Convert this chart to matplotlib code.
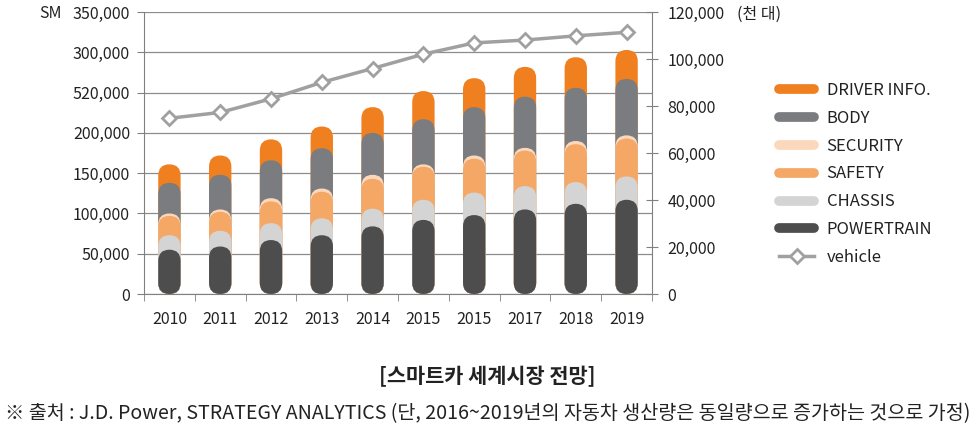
import numpy as np
import matplotlib
matplotlib.use("Agg")
import matplotlib.pyplot as plt
from matplotlib.patches import FancyBboxPatch
from matplotlib.lines import Line2D

plt.rcParams['font.family'] = ['Noto Sans CJK KR', 'DejaVu Sans']

# data
years = ['2010', '2011', '2012', '2013', '2014', '2015', '2015', '2017', '2018', '2019']
powertrain = [55000, 59000, 67000, 73000, 84000, 92000, 98000, 105000, 112000, 117000]
chassis = [18000, 19500, 21000, 21000, 22000, 25000, 28000, 29000, 27000, 29000]
safety = [24000, 23500, 27000, 33000, 37000, 41000, 42000, 44000, 47000, 47000]
security = [3000, 3000, 4000, 4000, 5000, 3000, 4000, 3500, 4000, 4000]
body = [38000, 43000, 47000, 50000, 52000, 56000, 60000, 63500, 66000, 70000]
driver_info = [23000, 24000, 26000, 27000, 32000, 35000, 36000, 37000, 38000, 36000]
vehicle = [74800, 77300, 83100, 90100, 96000, 102100, 106900, 108100, 109900, 111400]

left_ticks = [0, 50000, 100000, 150000, 200000, 250000, 300000, 350000]
left_labels = ['0', '50,000', '100,000', '150,000', '200,000', '520,000', '300,000', '350,000']
right_ticks = [0, 20000, 40000, 60000, 80000, 100000, 120000]

# stacking order bottom -> top
series = [('POWERTRAIN', powertrain, '#4d4d4d'),
          ('CHASSIS', chassis, '#d4d4d4'),
          ('SAFETY', safety, '#f5a766'),
          ('SECURITY', security, '#fbd8bb'),
          ('BODY', body, '#7a7c80'),
          ('DRIVER INFO.', driver_info, '#ef7f1f')]
##################################################

fig = plt.figure(figsize=(9.75, 4.33), dpi=100)
ax = fig.add_axes([0.1477, 0.321, 0.521, 0.651])
ax.set_xlim(-0.5, len(years) - 0.5)
ax.set_ylim(0, 350000)

# pixel aspect so the caps are round circles
bb = ax.get_position()
w_px = bb.width * fig.get_figwidth() * fig.dpi
h_px = bb.height * fig.get_figheight() * fig.dpi
aspect = (350000 / h_px) / (len(years) / w_px)

x = np.arange(len(years))
bar_w = 0.44
cums = np.cumsum([np.array(s[1]) for s in series], axis=0)
# draw from the top series down so lower caps overlap upper ones
for k in range(len(series) - 1, -1, -1):
    for i in x:
        p = FancyBboxPatch((i - bar_w / 2, 0), bar_w, cums[k][i],
                           boxstyle="round,pad=0,rounding_size=%f" % (bar_w / 2),
                           mutation_aspect=aspect, fc=series[k][2], ec='none', zorder=2)
        ax.add_patch(p)
##################################################

# axes styling
ax.set_yticks(left_ticks)
ax.set_yticklabels(left_labels)
ax.yaxis.grid(True, color='#8c8c8c', lw=0.9)
ax.set_axisbelow(True)
ax.set_xticks(x)
ax.set_xticklabels(years)
ax.set_xticks(np.arange(-0.5, len(years), 1), minor=True)
ax.tick_params(axis='x', which='major', length=0, pad=12, labelsize=11.5, labelcolor='#222222')
ax.tick_params(axis='x', which='minor', length=5, color='#808080')
ax.tick_params(axis='y', length=5, color='#808080', pad=5, labelsize=11.5, labelcolor='#222222')
for s in ['top', 'right']:
    ax.spines[s].set_visible(False)
for s in ['left', 'bottom']:
    ax.spines[s].set_color('#808080')

ax2 = ax.twinx()
ax2.set_ylim(0, 120000)
ax2.set_yticks(right_ticks)
ax2.set_yticklabels(['{:,}'.format(v) for v in right_ticks])
ax2.plot(x, vehicle, color='#a0a0a0', lw=2.5, marker='D', ms=7.5,
         mfc='white', mec='#a0a0a0', mew=2, zorder=3)
ax2.tick_params(axis='y', length=8, direction='inout', color='#808080', pad=7,
                labelsize=11.5, labelcolor='#222222')
for s in ['top', 'left', 'bottom']:
    ax2.spines[s].set_visible(False)
ax2.spines['right'].set_color('#808080')
##################################################

# legend
handles = [Line2D([], [], color=c, lw=7, solid_capstyle='round') for _, _, c in series[::-1]]
handles.append(Line2D([], [], color='#a0a0a0', lw=2.5, marker='D', ms=7,
                      mfc='white', mec='#a0a0a0', mew=2))
labels = [n for n, _, _ in series[::-1]] + ['vehicle']
fig.legend(handles, labels, loc='upper left', bbox_to_anchor=(0.799, 1 - 82 / 433),
           frameon=False, borderpad=0, borderaxespad=0, handlelength=2.1,
           handletextpad=0.75, labelspacing=0.65, fontsize=12, labelcolor='#222222')

# text
fig.text(0.052, 1 - 14 / 433, 'SM', ha='center', va='center', fontsize=11.5, color='#222222')
fig.text(0.756, 1 - 14 / 433, '(천 대)', ha='left', va='center', fontsize=11.5, color='#222222')
fig.text(0.5, 1 - 377 / 433, '[스마트카 세계시장 전망]', ha='center', va='center',
         fontsize=15, fontweight='bold', color='#222222')
fig.text(0.005, 1 - 414 / 433,
         '※ 출처 : J.D. Power, STRATEGY ANALYTICS (단, 2016~2019년의 자동차 생산량은 동일량으로 증가하는 것으로 가정)',
         ha='left', va='center', fontsize=14.1, color='#222222')

fig.savefig('out.png', dpi=100)
